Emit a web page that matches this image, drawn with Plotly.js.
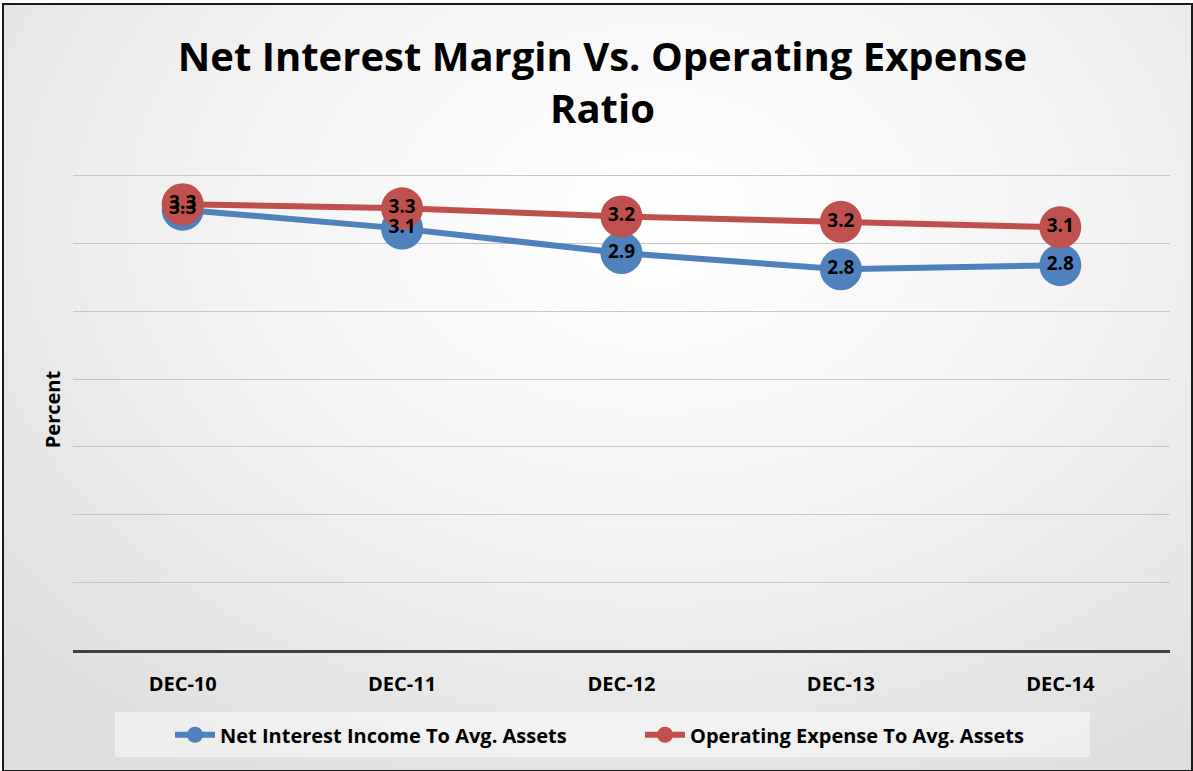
<!DOCTYPE html>
<html>
<head>
<meta charset="utf-8">
<script src="https://cdn.plot.ly/plotly-3.0.1.min.js"></script>
<style>
  html, body { margin: 0; padding: 0; background: #ffffff; }
  #wrap {
    position: absolute; left: 2px; top: 3px; width: 1187px; height: 765px;
    border: 2px solid #1a1a1a;
    background: radial-gradient(ellipse 75% 85% at 55% 28%, #ffffff 0%, #f4f4f4 45%, #dedede 100%);
  }
  #chart { position: absolute; left: -4px; top: -5px; width: 1193px; height: 771px; }
</style>
</head>
<body>
<div id="wrap"><div id="chart"></div></div>
<script>
const categories = ["DEC-10", "DEC-11", "DEC-12", "DEC-13", "DEC-14"];
const netInterestIncome = [3.25, 3.11, 2.93, 2.81, 2.84];
const operatingExpense = [3.29, 3.26, 3.20, 3.16, 3.12];
const seriesNames = ["Net Interest Income To Avg. Assets", "Operating Expense To Avg. Assets"];
const seriesColors = ["#4F81BD", "#C0504D"];

const FONT = "'Open Sans', 'DejaVu Sans', sans-serif";
const fmt = v => v.toFixed(1);

const lineTrace = (y, i) => ({
  x: categories, y: y, type: "scatter", mode: "lines+markers",
  name: seriesNames[i],
  line: { color: seriesColors[i], width: 6 },
  marker: { color: seriesColors[i], size: 42, line: { width: 0 } },
  hoverinfo: "skip"
});
const textTrace = (y) => ({
  x: categories, y: y, type: "scatter", mode: "text",
  text: y.map(fmt), textposition: "middle center",
  textfont: { family: FONT, size: 19, color: "#000000", weight: "bold" },
  showlegend: false, hoverinfo: "skip"
});

const data = [
  lineTrace(netInterestIncome, 0),
  lineTrace(operatingExpense, 1),
  textTrace(netInterestIncome),
  textTrace(operatingExpense)
];

const layout = {
  width: 1193, height: 771,
  paper_bgcolor: "rgba(0,0,0,0)",
  plot_bgcolor: "rgba(0,0,0,0)",
  margin: { l: 73, r: 23, t: 169, b: 121 },
  font: { family: FONT, color: "#000000" },
  title: {
    text: "<b>Net Interest Margin Vs. Operating Expense<br>Ratio</b>",
    font: { family: FONT, size: 40, color: "#000000" },
    x: 0.505, xanchor: "center", xref: "container",
    y: 0.908, yanchor: "top", yref: "container"
  },
  xaxis: {
    type: "category", range: [-0.5, 4.5],
    showline: true, linecolor: "#404040", linewidth: 3,
    showgrid: false, zeroline: false,
    ticks: "outside", ticklen: 14, tickcolor: "rgba(0,0,0,0)",
    tickfont: { family: FONT, size: 20, color: "#000000", weight: "bold" },
    fixedrange: true
  },
  yaxis: {
    range: [0, 3.55], dtick: 0.5, tick0: 0,
    showgrid: true, gridcolor: "#c6c6c6", gridwidth: 1,
    zeroline: false, showline: false, showticklabels: false, ticks: "",
    title: { text: "<b>Percent</b>", font: { family: FONT, size: 20, color: "#000000" }, standoff: 6 },
    fixedrange: true
  },
  showlegend: true,
  legend: {
    orientation: "h", xref: "container", yref: "container",
    x: 170 / 1193, xanchor: "left", y: 0.047, yanchor: "middle",
    bgcolor: "rgba(0,0,0,0)",
    font: { family: FONT, size: 20, color: "#000000", weight: "bold" },
    itemwidth: 40, tracegroupgap: 0,
    entrywidth: 415, entrywidthmode: "pixels"
  },
  shapes: [
    { type: "rect", xref: "paper", yref: "paper",
      x0: (115 - 73) / 1097, x1: (1090 - 73) / 1097,
      y0: (650 - 757) / 481, y1: (650 - 712) / 481,
      fillcolor: "rgba(255,255,255,0.45)", line: { width: 0 }, layer: "below" }
  ]
};

Plotly.newPlot("chart", data, layout, { displayModeBar: false, staticPlot: true });
</script>
</body>
</html>
